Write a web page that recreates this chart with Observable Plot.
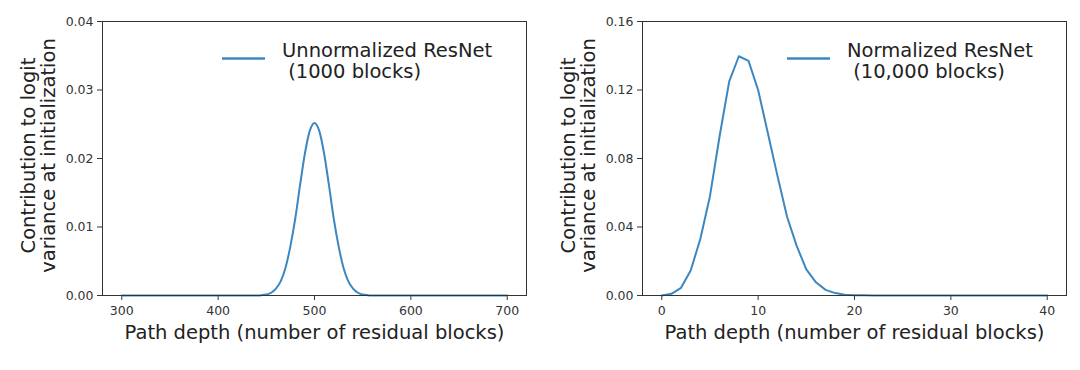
<!DOCTYPE html>
<html><head><meta charset="utf-8">
<script src="https://cdn.jsdelivr.net/npm/d3@7"></script>
<script src="https://cdn.jsdelivr.net/npm/@observablehq/plot@0.6"></script>
<style>
body{margin:0;background:#fff;}
#wrap{position:relative;width:1080px;height:370px;font-family:"DejaVu Sans",sans-serif;}
.panel{position:absolute;top:0;}
#legend{position:absolute;left:0;top:0;pointer-events:none;}
</style></head><body>
<div id="wrap"></div>
<script>
// ---- data ----
const unnormDepth = [300,400,430,435,440,445,450,455,460,465,470,475,480,485,490,495,500,505,510,515,520,525,530,535,540,545,550,555,560,565,570,600,700];
const unnormVar   = [0,0,0,0,0.00001,0.00005,0.00015,0.0004,0.0010,0.0021,0.0041,0.0072,0.0112,0.0161,0.0207,0.0240,0.0252,0.0240,0.0207,0.0161,0.0112,0.0072,0.0041,0.0021,0.0010,0.0004,0.00015,0.00005,0.00001,0,0,0,0];
const normDepth = [0,1,2,3,4,5,6,7,8,9,10,11,12,13,14,15,16,17,18,19,20,21,22,23,24,25,26,27,28,29,30,31,32,33,34,35,36,37,38,39,40];
const normVar   = [0,0.001,0.0045,0.0146,0.033,0.058,0.093,0.125,0.1397,0.137,0.120,0.095,0.070,0.046,0.029,0.0152,0.0077,0.0033,0.0014,0.0005,0.0002,0.0001,0,0,0,0,0,0,0,0,0,0,0,0,0,0,0,0,0,0,0];
const unnormXTicks = [300,400,500,600,700];
const unnormYTicks = [0,0.01,0.02,0.03,0.04];
const normXTicks = [0,10,20,30,40];
const normYTicks = [0,0.04,0.08,0.12,0.16];
const xLabel = "Path depth (number of residual blocks)";
const yLabel = "Contribution to logit\nvariance at initialization";
const legendUnnorm = ["Unnormalized ResNet", " (1000 blocks)"];
const legendNorm = ["Normalized ResNet", " (10,000 blocks)"];

const COLOR = "#3c87c0";
const FONT = "DejaVu Sans, sans-serif";

function panel(xs, ys, xDomain, yDomain, xTicks, yTicks, curve) {
  const data = xs.map((x, i) => ({x, y: ys[i]}));
  return Plot.plot({
    width: 540, height: 370,
    marginLeft: 102, marginRight: 14, marginTop: 21, marginBottom: 75,
    style: {fontFamily: FONT, fontSize: "12.5px", color: "#333", background: "transparent"},
    x: {domain: xDomain, ticks: xTicks, tickFormat: d => String(d), tickSize: 5, tickPadding: 6, label: null},
    y: {domain: yDomain, ticks: yTicks, tickFormat: d3.format(".2f"), tickSize: 5, tickPadding: 4, label: null},
    marks: [
      Plot.line(data, {x: "x", y: "y", stroke: COLOR, strokeWidth: 2, curve}),
      Plot.frame({stroke: "#333", strokeWidth: 1}),
      Plot.text([xLabel], {text: d => d, frameAnchor: "bottom", dy: 43, textAnchor: "middle", lineAnchor: "bottom", fontSize: 19.5, fill: "#222"}),
      Plot.text([yLabel], {text: d => d, frameAnchor: "left", rotate: -90, dx: -48, dy: -3, textAnchor: "middle", lineAnchor: "bottom", lineHeight: 1.0, fontSize: 19.5, fill: "#222"})
    ]
  });
}

const wrap = document.getElementById("wrap");
const left = panel(unnormDepth, unnormVar, [280, 720], [0, 0.04], unnormXTicks, unnormYTicks, "monotone-x");
left.classList.add("panel"); left.style.left = "0px";
const right = panel(normDepth, normVar, [-2, 42], [0, 0.16], normXTicks, normYTicks, "linear");
right.classList.add("panel"); right.style.left = "540px";
wrap.appendChild(left);
wrap.appendChild(right);

// legend overlay
const ns = "http://www.w3.org/2000/svg";
const lg = document.createElementNS(ns, "svg");
lg.setAttribute("id", "legend");
lg.setAttribute("width", 1080); lg.setAttribute("height", 370);
function legendItem(x0, lines) {
  const ln = document.createElementNS(ns, "line");
  ln.setAttribute("x1", x0); ln.setAttribute("x2", x0 + 43);
  ln.setAttribute("y1", 58.5); ln.setAttribute("y2", 58.5);
  ln.setAttribute("stroke", COLOR); ln.setAttribute("stroke-width", 2.5);
  lg.appendChild(ln);
  lines.forEach((t, i) => {
    const tx = document.createElementNS(ns, "text");
    tx.setAttribute("x", x0 + 60); tx.setAttribute("y", 56.5 + i * 21);
    tx.setAttribute("font-family", FONT); tx.setAttribute("font-size", 19.5);
    tx.setAttribute("fill", "#222");
    tx.setAttribute("style", "white-space:pre");
    tx.textContent = t;
    lg.appendChild(tx);
  });
}
legendItem(222, legendUnnorm);
legendItem(787, legendNorm);
wrap.appendChild(lg);
</script>
</body></html>
